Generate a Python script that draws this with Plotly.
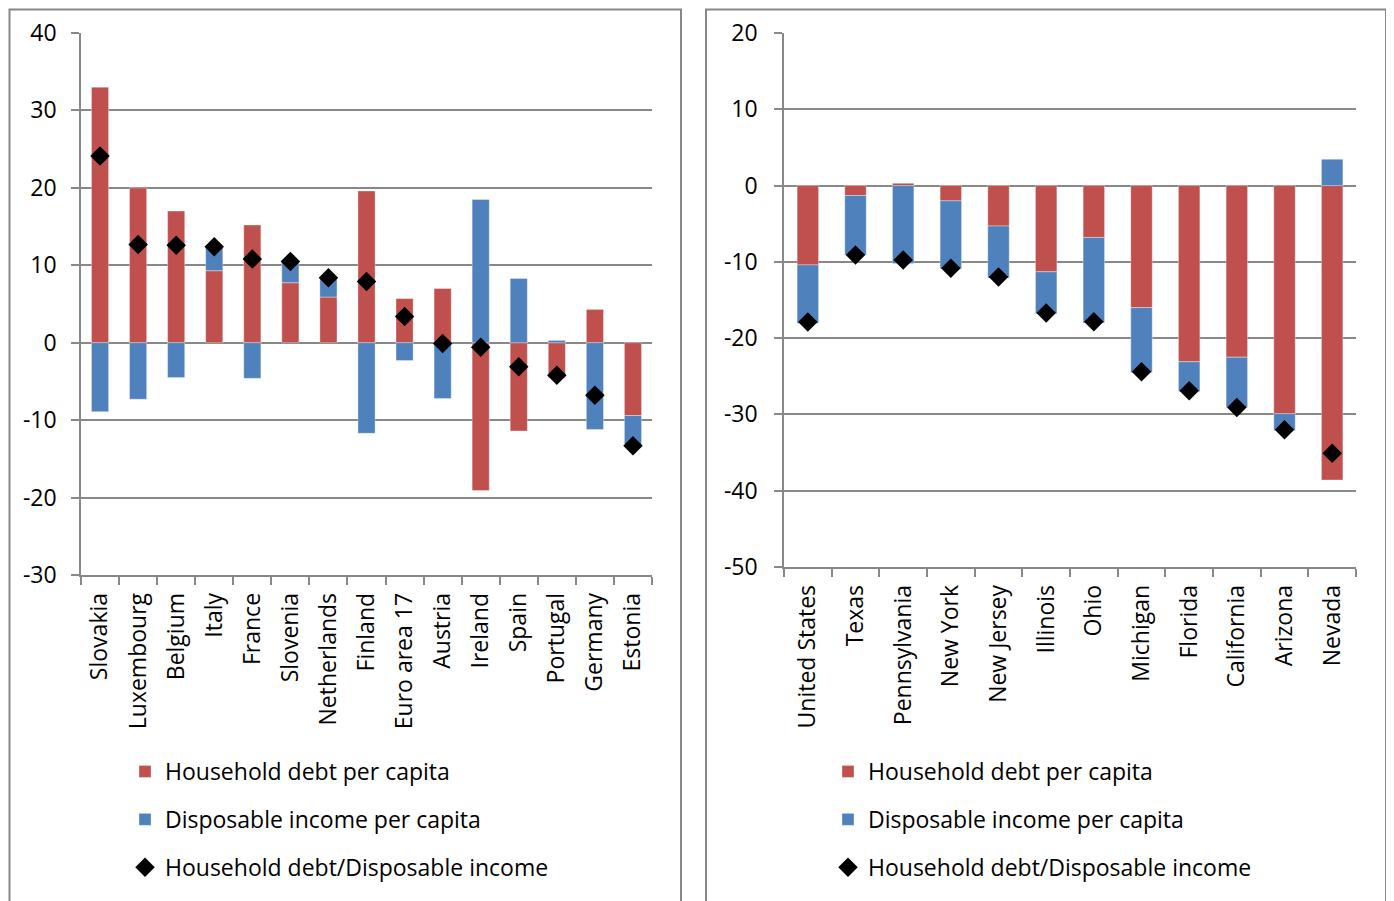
import plotly.graph_objects as go

# ---------------- data ----------------
eu_countries = ["Slovakia", "Luxembourg", "Belgium", "Italy", "France", "Slovenia",
                "Netherlands", "Finland", "Euro area 17", "Austria", "Ireland",
                "Spain", "Portugal", "Germany", "Estonia"]
eu_debt = [33.0, 20.0, 17.0, 9.3, 15.2, 7.75, 5.9, 19.6, 5.7, 7.0, -19.1,
           -11.4, -4.5, 4.3, -9.4]
eu_income = [-8.9, -7.3, -4.5, 3.1, -4.6, 2.75, 2.6, -11.7, -2.3, -7.2, 18.5,
             8.3, 0.3, -11.2, -3.9]
eu_ratio = [24.1, 12.7, 12.6, 12.4, 10.8, 10.5, 8.4, 7.9, 3.4, -0.1, -0.6,
            -3.1, -4.2, -6.8, -13.3]

us_states = ["United States", "Texas", "Pennsylvania", "New York", "New Jersey",
             "Illinois", "Ohio", "Michigan", "Florida", "California", "Arizona",
             "Nevada"]
us_debt = [-10.4, -1.3, 0.3, -2.0, -5.3, -11.3, -6.8, -16.0, -23.1, -22.5,
           -29.9, -38.6]
us_income = [-7.65, -7.8, -10.2, -8.9, -6.8, -5.5, -11.2, -8.5, -3.9, -6.6,
             -2.2, 3.45]
us_ratio = [-17.9, -9.1, -9.75, -10.85, -12.0, -16.7, -17.85, -24.4, -26.9,
            -29.1, -32.0, -35.1]

eu_yticks = [40, 30, 20, 10, 0, -10, -20, -30]
eu_yticklabels = ["40", "30", "20", "10", "0", "-10", "-20", "-30"]
us_yticks = [20, 10, 0, -10, -20, -30, -40, -50]
us_yticklabels = ["20", "10", "0", "-10", "-20", "-30", "-40", "-50"]

series_names = ["Household debt per capita", "Disposable income per capita",
                "Household debt/Disposable income"]

# ---------------- styling ----------------
OFF = 8                      # page body margin of the browser
W, H = 1394 - OFF, 901 - OFF
RED = "#C0504D"
BLUE = "#4F81BD"
GRID = "#888888"
FONT = "Open Sans"
FS = 23


def px_x(p):
    return (p - OFF) / W


def px_y(p):
    return 1 - (p - OFF) / H


fig = go.Figure()

panels = [
    (eu_countries, eu_debt, eu_income, eu_ratio, "x", "y", "legend"),
    (us_states, us_debt, us_income, us_ratio, "x2", "y2", "legend2"),
]
for i, (cats, debt, inc, ratio, xa, ya, lg) in enumerate(panels):
    fig.add_trace(go.Bar(x=cats, y=debt, name=series_names[0], xaxis=xa, yaxis=ya,
                         marker=dict(color=RED, line=dict(color="rgba(255,255,255,0.35)", width=1)),
                         legend=lg, legendgroup=f"g{i}a"))
    fig.add_trace(go.Bar(x=cats, y=inc, name=series_names[1], xaxis=xa, yaxis=ya,
                         marker=dict(color=BLUE, line=dict(color="rgba(255,255,255,0.35)", width=1)),
                         legend=lg, legendgroup=f"g{i}b"))
    fig.add_trace(go.Scatter(x=cats, y=ratio, name=series_names[2], xaxis=xa, yaxis=ya,
                             mode="markers",
                             marker=dict(symbol="diamond", color="black", size=15),
                             legend=lg, legendgroup=f"g{i}c"))

common_x = dict(type="category", showgrid=False, showline=True, linecolor=GRID,
                linewidth=1.5, ticks="outside", tickson="boundaries", ticklen=8,
                tickcolor=GRID, tickwidth=1.5, tickangle=-90,
                tickfont=dict(family=FONT, size=FS, color="black"),
                ticklabelstandoff=7, zeroline=False, fixedrange=True,
                automargin=False)
common_y = dict(showgrid=True, gridcolor=GRID, gridwidth=1.5, showline=True,
                linecolor=GRID, linewidth=1.5, ticks="outside", ticklen=8,
                tickcolor=GRID, tickwidth=1.5, zeroline=True, zerolinecolor=GRID,
                zerolinewidth=1.5, tickfont=dict(family=FONT, size=FS, color="black"),
                fixedrange=True, automargin=False)

fig.update_layout(
    template="none",
    width=W, height=H,
    margin=dict(l=0, r=0, t=0, b=0, pad=0),
    paper_bgcolor="white", plot_bgcolor="white",
    barmode="relative", bargap=0.55,
    font=dict(family=FONT, size=FS, color="black"),
    xaxis=dict(common_x, domain=[px_x(81), px_x(652)], anchor="y",
               range=[-0.5, len(eu_countries) - 0.5]),
    yaxis=dict(common_y, domain=[px_y(575), px_y(33)], range=[-30, 40],
               tickvals=eu_yticks, ticktext=eu_yticklabels, anchor="x",
               ticklabelstandoff=10),
    xaxis2=dict(common_x, domain=[px_x(784), px_x(1356)], anchor="y2",
                range=[-0.5, len(us_states) - 0.5]),
    yaxis2=dict(common_y, domain=[px_y(567), px_y(33)], range=[-50, 20],
                tickvals=us_yticks, ticktext=us_yticklabels, anchor="x2",
                ticklabelstandoff=12),
    legend=dict(x=px_x(125), y=px_y(750), xanchor="left", yanchor="top",
                orientation="v", tracegroupgap=15, bgcolor="rgba(0,0,0,0)",
                font=dict(family=FONT, size=23, color="black"), itemwidth=30),
    legend2=dict(x=px_x(828), y=px_y(750), xanchor="left", yanchor="top",
                 orientation="v", tracegroupgap=15, bgcolor="rgba(0,0,0,0)",
                 font=dict(family=FONT, size=23, color="black"), itemwidth=30),
    showlegend=True,
    shapes=[
        dict(type="rect", xref="paper", yref="paper", x0=1.5 / W, x1=px_x(681),
             y0=-0.05, y1=1 - 1.5 / H, line=dict(color=GRID, width=2), layer="below"),
        dict(type="rect", xref="paper", yref="paper", x0=px_x(706), x1=px_x(1386),
             y0=-0.05, y1=1 - 1.5 / H, line=dict(color=GRID, width=2), layer="below"),
    ],
)

fig.write_html("out.html")
